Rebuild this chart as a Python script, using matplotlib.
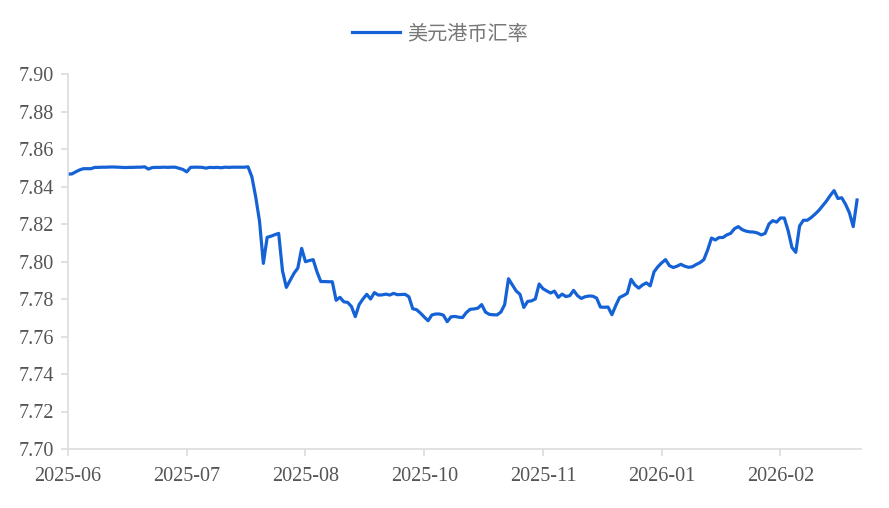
import matplotlib
matplotlib.use("Agg")
import matplotlib.pyplot as plt
import numpy as np

# USD/HKD daily rate (business days)
rates = [
    7.8466, 7.8467, 7.8478, 7.8488, 7.8495, 7.8495, 7.8495, 7.8502, 7.8502, 7.8503,
    7.8503, 7.8504, 7.8504, 7.8503, 7.8502, 7.8501, 7.8502, 7.8502, 7.8503, 7.8503,
    7.8505, 7.8493, 7.8501, 7.8502, 7.8502, 7.8503, 7.8502, 7.8503, 7.8503, 7.8497,
    7.8491, 7.8478, 7.8502, 7.8503, 7.8503, 7.8502, 7.8498, 7.8502, 7.8501, 7.8502,
    7.8500, 7.8503, 7.8502, 7.8503, 7.8503, 7.8503, 7.8503, 7.8505, 7.8452, 7.8345,
    7.8215, 7.7990, 7.8129, 7.8135, 7.8143, 7.8150, 7.7950, 7.7862, 7.7900, 7.7937,
    7.7965, 7.8070, 7.7999, 7.8005, 7.8010, 7.7945, 7.7893, 7.7893, 7.7892, 7.7892,
    7.7793, 7.7809, 7.7785, 7.7782, 7.7760, 7.7706, 7.7770, 7.7800, 7.7825, 7.7800,
    7.7834, 7.7821, 7.7822, 7.7826, 7.7821, 7.7830, 7.7823, 7.7824, 7.7825, 7.7812,
    7.7748, 7.7743, 7.7725, 7.7704, 7.7684, 7.7715, 7.7720, 7.7720, 7.7714, 7.7679,
    7.7705, 7.7707, 7.7703, 7.7701, 7.7728, 7.7745, 7.7747, 7.7751, 7.7770, 7.7730,
    7.7718, 7.7716, 7.7715, 7.7730, 7.7770, 7.7908, 7.7875, 7.7843, 7.7825, 7.7755,
    7.7787, 7.7790, 7.7800, 7.7880, 7.7855, 7.7843, 7.7832, 7.7842, 7.7809, 7.7826,
    7.7813, 7.7818, 7.7846, 7.7818, 7.7803, 7.7812, 7.7816, 7.7815, 7.7805, 7.7757,
    7.7756, 7.7757, 7.7716, 7.7765, 7.7808, 7.7818, 7.7830, 7.7905, 7.7875, 7.7858,
    7.7875, 7.7886, 7.7870, 7.7945, 7.7972, 7.7993, 7.8010, 7.7978, 7.7968, 7.7975,
    7.7985, 7.7975, 7.7969, 7.7972, 7.7984, 7.7994, 7.8010, 7.8062, 7.8125, 7.8115,
    7.8128, 7.8128, 7.8142, 7.8150, 7.8175, 7.8186, 7.8170, 7.8162, 7.8158, 7.8157,
    7.8152, 7.8142, 7.8150, 7.8200, 7.8218, 7.8210, 7.8232, 7.8232, 7.8165, 7.8075,
    7.8049, 7.8190, 7.8220, 7.8220, 7.8234, 7.8252, 7.8272, 7.8297, 7.8322, 7.8352,
    7.8378, 7.8336, 7.8340, 7.8305, 7.8260, 7.8186, 7.8328,
]
tick_labels = ["2025-06", "2025-07", "2025-08", "2025-10", "2025-11", "2026-01", "2026-02"]
tick_step = 31
series_name = "美元港币汇率"

axis_grey = "#dcdcdc"
text_grey = "#555555"
line_blue = "#1462d6"

fig = plt.figure(figsize=(8.89, 5.08), dpi=100)
ax = fig.add_axes([68 / 889, 59 / 508, (860.5 - 68) / 889, 375 / 508])

x = np.arange(len(rates))
ax.plot(x, rates, color=line_blue, lw=2.3, label=series_name, solid_joinstyle="round")

ax.set_xlim(0, len(rates) - 1 + 0.9)
ax.set_ylim(7.70, 7.90)

ax.set_xticks(np.arange(len(tick_labels)) * tick_step)
ax.set_xticklabels(tick_labels)
yt = np.arange(7.70, 7.9001, 0.02)
ax.set_yticks(yt)
ax.set_yticklabels([f"{v:.2f}" for v in yt])

for lab in ax.get_xticklabels() + ax.get_yticklabels():
    lab.set_fontfamily("Liberation Serif")
    lab.set_fontsize(14.5)
    lab.set_color(text_grey)

ax.tick_params(axis="both", colors=axis_grey, length=5, width=1.2)
ax.tick_params(axis="x", pad=8, labelcolor=text_grey)
ax.tick_params(axis="y", pad=5, labelcolor=text_grey)

for side in ("top", "right"):
    ax.spines[side].set_visible(False)
for side in ("left", "bottom"):
    ax.spines[side].set_color(axis_grey)
    ax.spines[side].set_linewidth(1.2)

leg = ax.legend(loc="center", bbox_to_anchor=(440 / 889, 1 - 34 / 508),
                bbox_transform=fig.transFigure, frameon=False,
                handlelength=2.4, handletextpad=0.35,
                prop={"family": "Noto Sans CJK SC", "size": 14.5})
for t in leg.get_texts():
    t.set_color("#777777")

fig.savefig("out.png", dpi=100)
